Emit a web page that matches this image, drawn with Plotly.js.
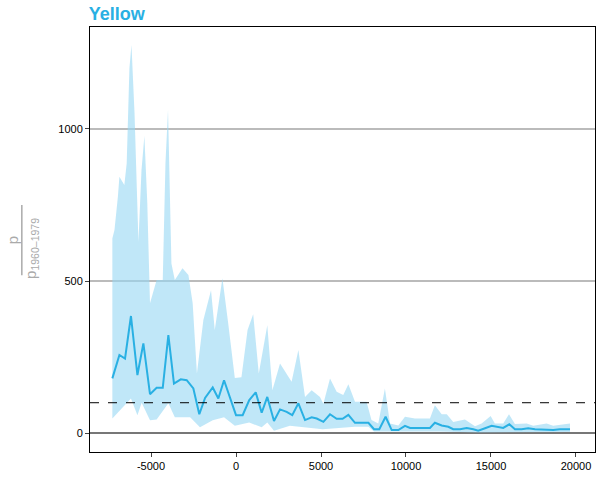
<!DOCTYPE html>
<html><head><script src="https://cdn.plot.ly/plotly-3.0.1.min.js"></script></head>
<body style="margin:0"><div id="g" style="width:600px;height:480px"></div>
<script>
const meanX=[-7275,-6860,-6530,-6180,-5800,-5450,-5060,-4670,-4310,-3980,-3650,-3250,-2900,-2510,-2160,-1820,-1370,-1040,-705,-350,0,390,780,1160,1510,1840,2235,2590,2980,3310,3670,4060,4450,4750,5140,5530,5920,6270,6610,7000,7790,8120,8430,8800,9160,9550,9940,10240,11410,11700,12100,12490,12780,13180,13570,13960,14250,14650,15040,15720,16080,16410,16800,17190,17590,18660,19060,19650];
const meanY=[180,257,245,385,191,295,128,149,149,322,163,177,174,147,62,116,150,114,174,119,59,59,109,134,67,119,40,78,70,59,98,43,52,48,37,62,47,47,60,34,34,13,13,54,10,10,24,17,17,34,25,21,13,13,17,13,8,16,24,17,29,13,13,16,13,10,13,13];
const upX=[-7275,-7150,-6950,-6860,-6570,-6430,-6270,-6150,-5970,-5820,-5740,-5560,-5390,-5220,-5060,-4670,-4310,-4150,-4000,-3800,-3600,-3150,-2800,-2550,-2300,-1920,-1470,-1250,-800,-460,-160,-70,320,680,1010,1340,1840,2140,2590,3270,3670,4060,4450,4940,5140,5530,5920,6310,6610,7000,7680,7970,8370,8760,9060,9550,9940,10530,11410,11700,12100,12400,12780,13470,14060,14450,14980,15230,15720,16060,16410,17100,17490,18270,18660,19250,19650];
const upY=[640,668,777,843,816,887,1200,1276,1052,777,629,865,977,757,427,503,503,887,1062,558,503,542,520,427,196,372,470,339,509,361,229,181,184,339,391,196,355,141,229,169,273,119,141,119,97,180,136,125,161,103,103,43,32,147,32,25,54,48,48,92,62,62,37,45,23,32,56,32,32,62,30,32,24,32,24,29,32];
const loX=[-7275,-6180,-5800,-5550,-5060,-4670,-3980,-3600,-2700,-2120,-1370,-705,-70,780,1510,1840,2235,3170,5100,7000,7790,8120,9000,10000,12000,14250,16000,18000,19650];
const loY=[48,114,59,100,42,45,98,52,52,19,42,52,24,35,19,35,8,24,13,21,21,5,5,5,5,2,4,4,4];
const polyX=upX.concat(loX.slice().reverse());
const polyY=upY.concat(loY.slice().reverse());
const traces=[
 {x:polyX,y:polyY,fill:'toself',fillcolor:'rgba(150,215,243,0.6)',line:{width:0},mode:'lines',hoverinfo:'skip'},
 {x:meanX,y:meanY,mode:'lines',line:{color:'#29b0e3',width:2}}
];
const F='Liberation Sans, Arial';
const layout={
 width:600,height:480,showlegend:false,
 margin:{l:90,r:5,t:27,b:28},
 paper_bgcolor:'white',plot_bgcolor:'white',
 title:{text:'<b>Yellow</b>',x:0.148,xanchor:'left',y:0.985,yanchor:'top',font:{family:F,size:18,color:'#29b0e3'}},
 xaxis:{range:[-8590,21120],tickvals:[-5000,0,5000,10000,15000,20000],ticktext:['-5000','0','5000','10000','15000','20000'],showgrid:false,zeroline:false,ticks:'outside',ticklen:4,showline:true,mirror:true,linecolor:'black',linewidth:1,tickfont:{family:F,size:11,color:'black'}},
 yaxis:{range:[-62,1335],tickvals:[0,500,1000],showgrid:true,gridcolor:'#bbbbbb',gridwidth:1.5,zeroline:true,zerolinecolor:'#777777',zerolinewidth:1.5,ticks:'outside',ticklen:4,showline:true,mirror:true,linecolor:'black',linewidth:1,tickfont:{family:F,size:11,color:'black'}},
 shapes:[
  {type:'line',xref:'paper',x0:0,x1:1,yref:'y',y0:100,y1:100,line:{color:'black',width:1,dash:'dash'}},
  {type:'line',xref:'paper',yref:'paper',x0:-0.135,x1:-0.135,y0:0.416,y1:0.581,line:{color:'#aaaaaa',width:1.5}}
 ],
 annotations:[
  {text:'p',xref:'paper',yref:'paper',x:-0.152,y:0.499,xanchor:'center',yanchor:'middle',textangle:-90,showarrow:false,font:{family:F,size:15,color:'#aaaaaa'}},
  {text:'p<sub>1960–1979</sub>',xref:'paper',yref:'paper',x:-0.117,y:0.48,xanchor:'center',yanchor:'middle',textangle:-90,showarrow:false,font:{family:F,size:15,color:'#aaaaaa'}}
 ]
};
Plotly.newPlot('g',traces,layout,{displayModeBar:false});
</script></body></html>
